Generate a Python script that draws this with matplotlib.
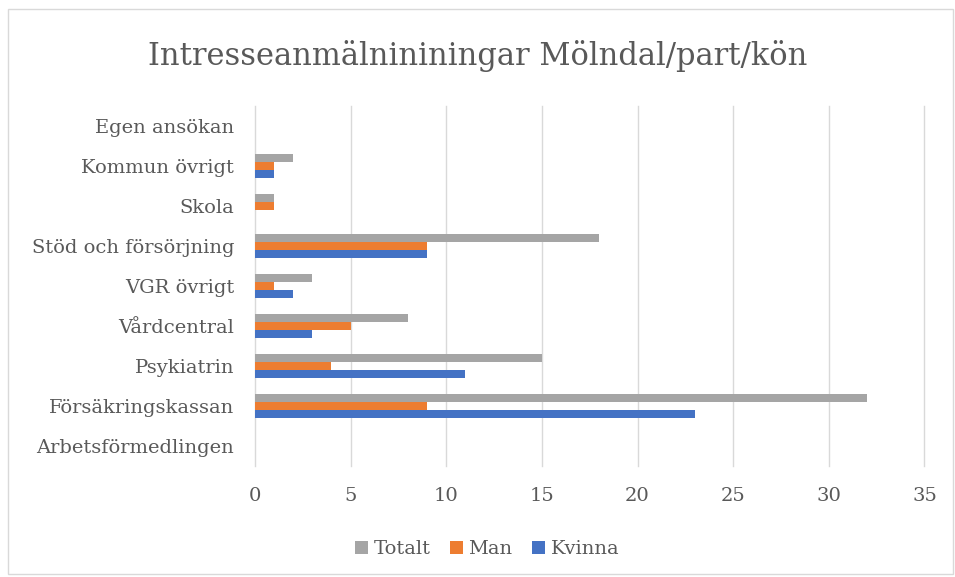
import matplotlib
matplotlib.use("Agg")
import matplotlib.pyplot as plt
import numpy as np
from matplotlib.patches import Rectangle

# categories bottom to top, as shown in the chart
categories = ["Arbetsförmedlingen", "Försäkringskassan", "Psykiatrin", "Vårdcentral",
              "VGR övrigt", "Stöd och försörjning", "Skola", "Kommun övrigt", "Egen ansökan"]
kvinna = [0, 23, 11, 3, 2, 9, 0, 1, 0]
man = [0, 9, 4, 5, 1, 9, 1, 1, 0]
totalt = [0, 32, 15, 8, 3, 18, 1, 2, 0]
xticks = [0, 5, 10, 15, 20, 25, 30, 35]

plt.rcParams['font.family'] = ['DejaVu Serif']
txt = '#595959'

fig = plt.figure(figsize=(9.55, 5.77), dpi=100)
ax = fig.add_axes([0.267, 0.192, 0.701, 0.624])

y = np.arange(len(categories))
h = 0.2
ax.barh(y - h, kvinna, height=h, color='#4472C4', label='Kvinna', zorder=3)
ax.barh(y, man, height=h, color='#ED7D31', label='Man', zorder=3)
ax.barh(y + h, totalt, height=h, color='#A5A5A5', label='Totalt', zorder=3)

ax.set_xlim(0, 35)
ax.set_ylim(-0.5, len(categories) - 0.5)
ax.set_xticks(xticks)
ax.set_yticks(y)
ax.set_yticklabels(categories)
ax.tick_params(axis='both', length=0, labelsize=14, colors=txt)
ax.tick_params(axis='x', pad=15)
ax.tick_params(axis='y', pad=15)
ax.grid(axis='x', color='#D9D9D9', linewidth=1, zorder=0)
for gl in ax.get_xgridlines():
    gl.set_clip_on(False)
for s in ax.spines.values():
    s.set_visible(False)

fig.suptitle('Intresseanmälnininingar Mölndal/part/kön', y=0.93, fontsize=22,
             color=txt)

handles, labels = ax.get_legend_handles_labels()
fig.legend(handles[::-1], labels[::-1], loc='center', bbox_to_anchor=(0.51, 0.048),
           ncol=3, frameon=False, fontsize=14, labelcolor=txt,
           handlelength=0.65, handleheight=0.65, handletextpad=0.3, columnspacing=1.0)

fig.patches.append(Rectangle((0.008, 0.005), 0.99, 0.98, transform=fig.transFigure,
                             fill=False, edgecolor='#D9D9D9', linewidth=1))

fig.savefig('out.png', dpi=100)
